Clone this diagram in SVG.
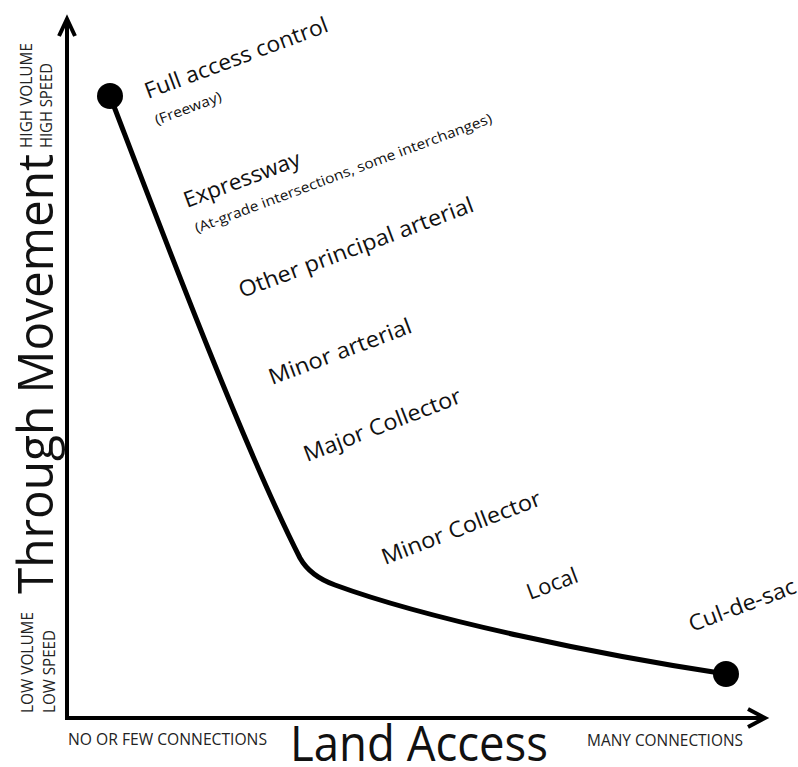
<svg xmlns="http://www.w3.org/2000/svg" width="798" height="767" viewBox="0 0 798 767">
<style>
text{font-family:"Open Sans","Noto Sans","Liberation Sans",sans-serif;fill:#111}
.lbl{font-size:22px}
.sub{font-size:14px}
.cap{font-size:16px;fill:#222}
.big{font-size:49px}
.axis{stroke:#000;stroke-width:4;fill:none}
.head{stroke:#000;stroke-width:4;fill:none;stroke-linejoin:miter;stroke-linecap:butt}
.curve{stroke:#000;stroke-width:5;fill:none;stroke-linecap:round;stroke-linejoin:round}
</style>
<rect width="798" height="767" fill="#fff"/>
<g id="axes">
<line class="axis" x1="67" y1="20" x2="67" y2="718"/>
<polyline class="head" points="59,36 67,19 75,36"/>
<line class="axis" x1="65" y1="718" x2="764" y2="718"/>
<polyline class="head" points="748,709 765,718 748,727"/>
</g>
<g id="axis-labels">
<text class="big" x="53" y="594" textLength="440" lengthAdjust="spacingAndGlyphs" transform="rotate(-90 53 594)">Through Movement</text>
<text class="cap" x="32" y="148" textLength="105" lengthAdjust="spacingAndGlyphs" transform="rotate(-90 32 148)">HIGH VOLUME</text>
<text class="cap" x="52" y="148" textLength="85" lengthAdjust="spacingAndGlyphs" transform="rotate(-90 52 148)">HIGH SPEED</text>
<text class="cap" x="33" y="713" textLength="101" lengthAdjust="spacingAndGlyphs" transform="rotate(-90 33 713)">LOW VOLUME</text>
<text class="cap" x="55" y="713" textLength="83" lengthAdjust="spacingAndGlyphs" transform="rotate(-90 55 713)">LOW SPEED</text>
<text class="big" x="290" y="761" textLength="258" lengthAdjust="spacingAndGlyphs">Land Access</text>
<text class="cap" x="68" y="745" textLength="199" lengthAdjust="spacingAndGlyphs">NO OR FEW CONNECTIONS</text>
<text class="cap" x="587" y="746" textLength="156" lengthAdjust="spacingAndGlyphs">MANY CONNECTIONS</text>
</g>
<g id="connectors">
<path class="curve" d="M110,96 C150,200 240,440 300,558 Q310,576 335,585 C430,620 600,655 726,674"/>
</g>
<g id="node-freeway">
<circle cx="110" cy="96" r="13" fill="#000"/>
</g>
<g id="node-culdesac">
<circle cx="726" cy="674" r="13" fill="#000"/>
</g>
<g id="labels">
<g id="label-full-access">
<text class="lbl" x="148" y="99" textLength="194" lengthAdjust="spacingAndGlyphs" transform="rotate(-20.5 148 99)">Full access control</text>
<text class="sub" x="157" y="125" textLength="70" lengthAdjust="spacingAndGlyphs" transform="rotate(-20.5 157 125)">(Freeway)</text>
</g>
<g id="label-expressway">
<text class="lbl" x="187" y="208" textLength="123" lengthAdjust="spacingAndGlyphs" transform="rotate(-20.5 187 208)">Expressway</text>
<text class="sub" x="197" y="233" textLength="316" lengthAdjust="spacingAndGlyphs" transform="rotate(-20.5 197 233)">(At-grade intersections, some interchanges)</text>
</g>
<g id="label-other-principal">
<text class="lbl" x="242" y="298" textLength="249" lengthAdjust="spacingAndGlyphs" transform="rotate(-20.5 242 298)">Other principal arterial</text>
</g>
<g id="label-minor-arterial">
<text class="lbl" x="272" y="385" textLength="151" lengthAdjust="spacingAndGlyphs" transform="rotate(-20.5 272 385)">Minor arterial</text>
</g>
<g id="label-major-collector">
<text class="lbl" x="307" y="462" textLength="167" lengthAdjust="spacingAndGlyphs" transform="rotate(-21 307 462)">Major Collector</text>
</g>
<g id="label-minor-collector">
<text class="lbl" x="385" y="565" textLength="169" lengthAdjust="spacingAndGlyphs" transform="rotate(-21 385 565)">Minor Collector</text>
</g>
<g id="label-local">
<text class="lbl" x="530" y="600" textLength="53" lengthAdjust="spacingAndGlyphs" transform="rotate(-20.5 530 600)">Local</text>
</g>
<g id="label-culdesac">
<text class="lbl" x="692" y="632" textLength="113" lengthAdjust="spacingAndGlyphs" transform="rotate(-20.5 692 632)">Cul-de-sac</text>
</g>
</g>
</svg>
